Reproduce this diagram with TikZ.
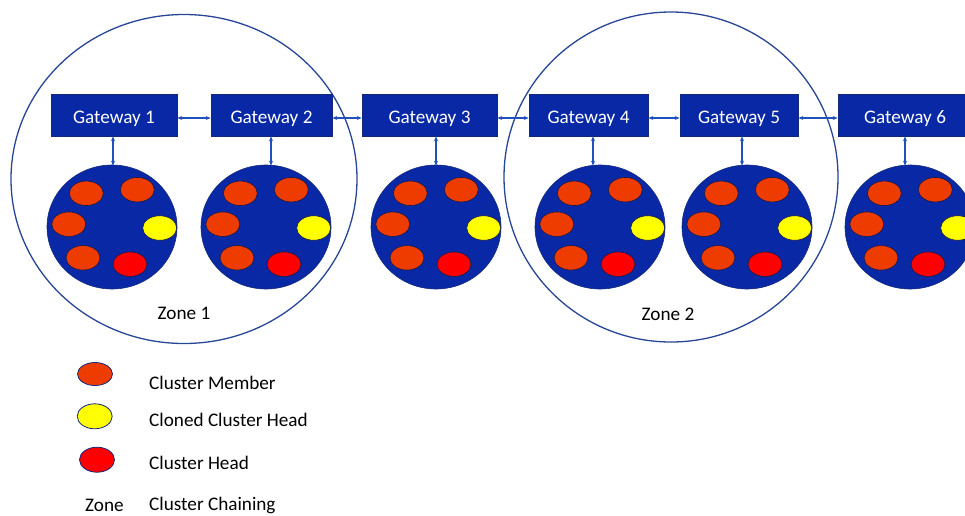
\documentclass[tikz,border=0pt]{standalone}
\usepackage{fontspec}
\setmainfont{Carlito}
\usetikzlibrary{arrows.meta,shapes.geometric,calc}
\definecolor{gwblue}{RGB}{8,40,165}
\definecolor{gwedge}{RGB}{20,40,120}
\definecolor{zoneline}{RGB}{40,70,150}
\definecolor{arrblue}{RGB}{30,80,190}
\definecolor{cmorange}{RGB}{238,60,0}
\definecolor{chred}{RGB}{255,0,0}
\definecolor{cchyellow}{RGB}{255,255,0}
\definecolor{elledge}{RGB}{25,25,70}
\tikzset{
  gateway/.style={rectangle,draw=gwedge,line width=0.6pt,fill=gwblue,text=white,minimum height=42pt,inner sep=0pt,text height=16.5pt,text depth=0pt,font=\fontsize{19.2}{23}\selectfont},
  cluster/.style={ellipse,draw=gwedge,line width=0.6pt,fill=gwblue,minimum width=130pt,minimum height=124pt,inner sep=0pt},
  zone/.style={ellipse,draw=zoneline,line width=1.3pt,inner sep=0pt},
  member/.style={ellipse,draw=elledge,line width=0.6pt,fill=cmorange,minimum width=34pt,minimum height=24.5pt,inner sep=0pt},
  chead/.style={member,fill=chred},
  cloned/.style={member,fill=cchyellow},
  arr/.style={draw=arrblue,line width=1.1pt,{Stealth[length=5pt,width=4pt]}-{Stealth[length=5pt,width=4pt]}},
  lbl/.style={font=\fontsize{19.2}{23}\selectfont,text=black,inner sep=0pt},
}
\newcommand{\clusterat}[2]{%
  \node[cluster] (#1) at #2 {};
  \node[member] (#1tl) at ($#2+(-25.7,-33.7)$) {};
  \node[member] (#1tr) at ($#2+(25.3,-37.3)$) {};
  \node[member] (#1l) at ($#2+(-43.2,-2.8)$) {};
  \node[cloned] (#1y) at ($#2+(47.7,1)$) {};
  \node[member] (#1bl) at ($#2+(-29,30.8)$) {};
  \node[chead] (#1r) at ($#2+(18,37.2)$) {};
}
\begin{document}
\begin{tikzpicture}[x=1pt,y=-1pt]
\useasboundingbox (0,0) rectangle (965,515);
\clip (0,0) rectangle (965,515);
% zones
\node[zone,minimum width=346pt,minimum height=329pt] (z1) at (184,179) {};
\node[zone,minimum width=334pt,minimum height=330pt] (z2) at (671,177) {};
\node[lbl] (z1t) at (184,313) {Zone 1};
\node[lbl] (z2t) at (668,314) {Zone 2};
% gateways
\node[gateway,minimum width=126pt] (g1) at (114,115) {Gateway 1};
\node[gateway,minimum width=121pt] (g2) at (271.5,115) {Gateway 2};
\node[gateway,minimum width=135pt] (g3) at (429.5,115) {Gateway 3};
\node[gateway,minimum width=119pt] (g4) at (588.5,115) {Gateway 4};
\node[gateway,minimum width=118pt] (g5) at (739,115) {Gateway 5};
\node[gateway,minimum width=134pt] (g6) at (905,115) {Gateway 6};
% clusters
\clusterat{c1}{(112,227)}
\clusterat{c2}{(266,227)}
\clusterat{c3}{(436,227)}
\clusterat{c4}{(600,227)}
\clusterat{c5}{(747,227)}
\clusterat{c6}{(910,227)}
% horizontal connectors
\foreach \a/\b in {g1/g2,g2/g3,g3/g4,g4/g5,g5/g6}
  \draw[arr] ([yshift=-3pt]\a.east) -- ([yshift=-3pt]\b.west);
% vertical connectors
\coordinate (v1) at (113,0);
\coordinate (v2) at (271,0);
\coordinate (v3) at (436,0);
\coordinate (v4) at (593,0);
\coordinate (v5) at (742,0);
\coordinate (v6) at (905,0);
\foreach \i in {1,...,6}
  \draw[arr] (g\i.south -| v\i) -- ([yshift=-1pt]c\i.north -| v\i);
% legend
\tikzset{legell/.style={ellipse,draw=gwedge,line width=0.8pt,minimum width=35pt,minimum height=23pt,inner sep=0pt}}
\node[legell,fill=cmorange] (lm) at (95,374) {};
\node[legell,fill=cchyellow,minimum height=25pt] (ly) at (94.7,416.3) {};
\node[legell,fill=chred,minimum height=25pt] (lr) at (97,459.7) {};
\node[lbl,anchor=west] (tm) at (149,383) {Cluster Member};
\node[lbl,anchor=west] (ty) at (149,420) {Cloned Cluster Head};
\node[lbl,anchor=west] (tr) at (149,463) {Cluster Head};
\node[lbl,anchor=west] (tz) at (85,505) {Zone};
\node[lbl,anchor=west] (tc) at (149,505) {Cluster Chaining};
\end{tikzpicture}
\end{document}
